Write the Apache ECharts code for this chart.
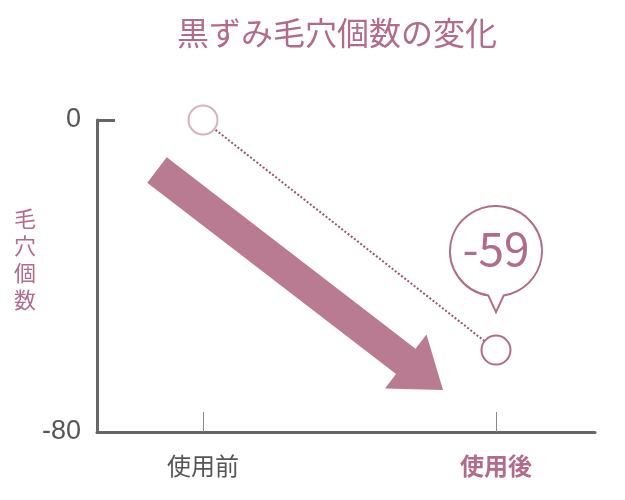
<!DOCTYPE html>
<html>
<head>
<meta charset="UTF-8">
<title>毛穴個数</title>
<script src="https://cdn.jsdelivr.net/npm/echarts@6/dist/echarts.min.js"></script>
<style>
	html, body { margin:0; padding:0; background:#fff; }
	#main { width:625px; height:500px; }
</style>
</head>
<body>
	<div id="main"></div>

	<script type="text/javascript">
		var categories = ['使用前', '使用後'];
		var values = [0, -59];
		var yTicks = [-80, 0];
		var yName = '毛穴個数';

		var pink = '#b06c8a';
		var font = 'Noto Sans CJK JP';

		var myChart = echarts.init(document.getElementById('main'));

		// callout bubble: circle with a small tail at the bottom
		var bubble = 'path://M42,97.3A48,48 0 1,1 58,97.3L50,115Z';

		var option = {
			backgroundColor: '#fff',
			animation: false,
			title: {
				text: '黒ずみ毛穴個数の変化',
				left: 172,
				top: 12,
				textStyle: { color: pink, fontSize: 32, fontWeight: 'normal', fontFamily: font }
			},
			grid: { left: 97, right: 30, top: 120, bottom: 68 },
			xAxis: {
				type: 'value',
				min: -106 / 293,
				max: 1 + 99 / 293,
				splitLine: { show: false },
				axisLine: { onZero: false, lineStyle: { color: '#666', width: 3 } },
				axisTick: {
					show: true, inside: true, length: 20,
					customValues: [0, 1],
					lineStyle: { color: '#888', width: 1 }
				},
				axisLabel: {
					customValues: [0, 1],
					margin: 22,
					formatter: function (v) {
						return v === 1 ? '{b|' + categories[1] + '}' : '{a|' + categories[0] + '}';
					},
					rich: {
						a: { color: '#555', fontSize: 24, fontFamily: font },
						b: { color: pink, fontSize: 24, fontWeight: 'bold', fontFamily: font }
					}
				}
			},
			yAxis: {
				type: 'value',
				min: yTicks[0],
				max: yTicks[1],
				interval: 80,
				splitLine: { show: false },
				axisLine: { show: true, onZero: false, lineStyle: { color: '#666', width: 3 } },
				axisTick: { show: true, inside: true, length: 18, lineStyle: { color: '#666', width: 3 } },
				axisLabel: { color: '#555', fontSize: 27, margin: 16, fontFamily: 'Liberation Sans' }
			},
			series: [{
				type: 'line',
				data: values.map(function (v, i) {
					return {
						value: [i, v],
						itemStyle: { color: '#fff', borderColor: i === 0 ? '#d6b1c0' : pink, borderWidth: 2 }
					};
				}),
				symbol: 'circle',
				symbolSize: 29,
				showSymbol: true,
				z: 5,
				lineStyle: { color: '#9a5573', width: 2, type: 'dotted' },
				markPoint: {
					data: [{
						coord: [1, values[1]],
						value: values[1] - values[0]
					}],
					symbol: bubble,
					symbolSize: [92, 106],
					symbolOffset: [0, -91],
					itemStyle: { color: '#fff', borderColor: pink, borderWidth: 2 },
					label: {
						show: true,
						position: 'inside',
						offset: [0, -11],
						color: pink,
						fontSize: 46,
						fontFamily: font,
						formatter: function (p) { return String(p.value); }
					}
				}
			}]
		};

		myChart.setOption(option);

		// vertical axis name + decorative arrow placed relative to the two points
		function drawExtras() {
			var a = myChart.convertToPixel({ gridIndex: 0 }, [0, values[0]]);
			var b = myChart.convertToPixel({ gridIndex: 0 }, [1, values[1]]);
			var s = [a[0] - 46, a[1] + 50];
			var t = [b[0] - 53, b[1] + 40];
			var dx = t[0] - s[0], dy = t[1] - s[1];
			var len = Math.sqrt(dx * dx + dy * dy);
			var u = [dx / len, dy / len];
			var n = [-u[1], u[0]];
			var hw = 16, hh = 34, hl = 47;
			var base = [t[0] - u[0] * hl, t[1] - u[1] * hl];
			function p(o, k) { return [o[0] + n[0] * k, o[1] + n[1] * k]; }
			var pts = [p(s, -hw), p(base, -hw), p(base, -hh), t, p(base, hh), p(base, hw), p(s, hw)];
			myChart.setOption({
				graphic: [{
					type: 'text',
					left: 14,
					top: 205,
					style: {
						text: yName.split('').join('\n'),
						fill: pink,
						fontSize: 22,
						fontFamily: font,
						lineHeight: 27
					}
				}, {
					type: 'polygon',
					shape: { points: pts },
					style: { fill: '#b97b91' },
					z: 1
				}]
			});
		}
		drawExtras();
	</script>
</body>
</html>
